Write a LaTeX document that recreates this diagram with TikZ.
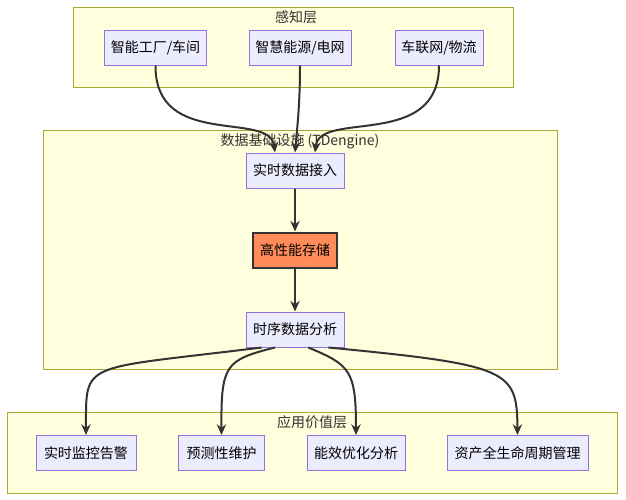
\documentclass[tikz,border=0pt]{standalone}
\usepackage{fontspec}
\setmainfont{Noto Sans CJK SC}
\definecolor{clfill}{HTML}{FFFFDE}
\definecolor{clline}{HTML}{AAAA33}
\definecolor{ndfill}{HTML}{ECECFF}
\definecolor{ndline}{HTML}{9370DB}
\definecolor{hot}{HTML}{FF8C5A}
\definecolor{edgec}{HTML}{333333}
\usetikzlibrary{arrows.meta}
\begin{document}
\begin{tikzpicture}[x=0.75pt,y=0.75pt,yscale=-1,xscale=1,
  cluster/.style={draw=clline,fill=clfill,line width=0.75pt},
  box/.style={draw=ndline,fill=ndfill,line width=0.75pt,inner sep=0pt,minimum height=26.25pt,font=\fontsize{10.5pt}{12pt}\selectfont},
  hotbox/.style={box,fill=hot,draw=edgec,line width=1.5pt},
  title/.style={font=\fontsize{10.5pt}{12pt}\selectfont,text=edgec},
  edge/.style={draw=edgec,line width=1.5pt,-{Stealth[length=8pt,width=7pt]}}]
\useasboundingbox (0,0) rectangle (626,500);

% clusters
\draw[cluster] (73,7) rectangle (513,87);
\draw[cluster] (43,130) rectangle (557,369);
\draw[cluster] (7,412) rectangle (617,493);
\node[title] (tsense) at (296,17) {感知层};
\node[title] (tinfra) at (300,141) {数据基础设施 (TDengine)};
\node[title] (tapp) at (312,422) {应用价值层};

% sensing layer
\node[box,minimum width=77pt] (factory) at (155.5,47.5) {智能工厂/车间};
\node[box,minimum width=76.5pt] (energy) at (300,47.5) {智慧能源/电网};
\node[box,minimum width=66pt] (vehicle) at (439,47.5) {车联网/物流};

% infrastructure
\node[box,minimum width=73.5pt] (ingest) at (295,170.5) {实时数据接入};
\node[hotbox,minimum width=63pt] (store) at (295,250) {高性能存储};
\node[box,minimum width=73.5pt] (analyse) at (295,329.5) {时序数据分析};

% applications
\node[box,minimum width=75pt] (monitor) at (86,453) {实时监控告警};
\node[box,minimum width=64pt] (predict) at (221.5,453) {预测性维护};
\node[box,minimum width=73.5pt] (effic) at (356,453) {能效优化分析};
\node[box,minimum width=105.75pt] (asset) at (517.5,453) {资产全生命周期管理};

% connectors
\draw[edge] (factory.south) .. controls (155,150) and (270,110) .. ([xshift=-15pt]ingest.north);
\draw[edge] (energy.south) .. controls (300,100) and (298,120) .. (ingest.north);
\draw[edge] (vehicle.south) .. controls (439,150) and (320,110) .. ([xshift=15pt]ingest.north);
\draw[edge] (ingest) -- (store);
\draw[edge] (store) -- (analyse);
\draw[edge] ([xshift=-25pt]analyse.south) .. controls (80,370) and (86,360) .. (monitor.north);
\draw[edge] ([xshift=-15pt]analyse.south) .. controls (225,360) and (221,365) .. (predict.north);
\draw[edge] ([xshift=10pt]analyse.south) .. controls (350,365) and (356,370) .. (effic.north);
\draw[edge] ([xshift=25pt]analyse.south) .. controls (510,365) and (517,370) .. (asset.north);
\end{tikzpicture}
\end{document}
